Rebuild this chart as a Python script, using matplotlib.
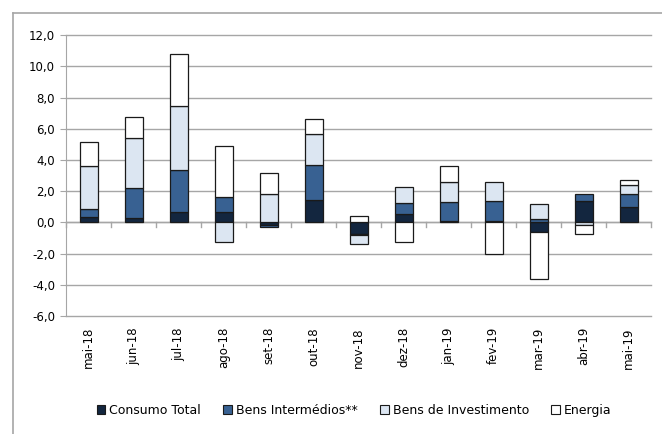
import numpy as np
import matplotlib.pyplot as plt
from matplotlib.patches import Patch
from matplotlib.lines import Line2D

meses = ['mai-18', 'jun-18', 'jul-18', 'ago-18', 'set-18', 'out-18', 'nov-18',
         'dez-18', 'jan-19', 'fev-19', 'mar-19', 'abr-19', 'mai-19']

consumo = [0.32, 0.28, 0.66, 0.68, -0.20, 1.41, -0.75, 0.51, 0.06, 0.09, -0.64, 1.40, 0.96]
intermedios = [0.51, 1.90, 2.68, 0.97, -0.12, 2.29, -0.05, 0.71, 1.22, 1.28, 0.20, 0.40, 0.86]
investimento = [2.81, 3.25, 4.10, -1.24, 1.80, 1.99, -0.61, 1.07, 1.29, 1.24, 0.97, -0.17, 0.55]
energia = [1.54, 1.35, 3.32, 3.23, 1.34, 0.94, 0.40, -1.28, 1.07, -2.05, -2.99, -0.60, 0.33]

series = [('Consumo Total', consumo, '#13263f'),
          ('Bens Intermédios**', intermedios, '#386192'),
          ('Bens de Investimento', investimento, '#dce6f2'),
          ('Energia', energia, '#ffffff')]

fig = plt.figure(figsize=(6.62, 4.34), dpi=100)
ax = fig.add_axes([0.0997, 0.272, 0.884, 0.647])

x = np.arange(len(meses))
pos = np.zeros(len(meses))
neg = np.zeros(len(meses))
for nome, vals, cor in series:
    v = np.array(vals)
    base = np.where(v >= 0, pos, neg)
    ax.bar(x, v, bottom=base, width=0.4, color=cor, edgecolor='#1a1a1a',
           linewidth=0.9, zorder=3)
    pos = pos + np.where(v >= 0, v, 0)
    neg = neg + np.where(v < 0, v, 0)

ax.set_xlim(-0.5, len(meses) - 0.5)
ax.set_ylim(-6, 12)
yt = np.arange(-6, 13, 2)
ax.set_yticks(yt)
ax.set_yticklabels([f'{t:.1f}'.replace('.', ',') for t in yt], fontsize=8.5)
for t in yt:
    ax.axhline(t, color='#a6a6a6', linewidth=1.0, zorder=0, clip_on=False)
ax.tick_params(axis='y', length=4, color='#a6a6a6', pad=4)

for s in ['top', 'right', 'bottom']:
    ax.spines[s].set_visible(False)
ax.spines['left'].set_color('#a6a6a6')

# eixo no zero com marcas entre categorias
ax.axhline(0, color='#a6a6a6', linewidth=1.0, zorder=2)
for b in np.arange(-0.5, len(meses), 1.0):
    ax.plot([b, b], [0, -0.28], color='#a6a6a6', linewidth=1.0, zorder=2, clip_on=False)

ax.set_xticks(x)
ax.set_xticklabels(meses, rotation=90, fontsize=8.5)
ax.tick_params(axis='x', length=0, pad=8)

handles = [Patch(facecolor=c, edgecolor='#1a1a1a', linewidth=0.8, label=n) for n, _, c in series]
fig.legend(handles=handles, loc='center', bbox_to_anchor=(0.535, 0.055), ncol=4,
           frameon=False, fontsize=9, handlelength=0.7, handleheight=0.7,
           handletextpad=0.3, columnspacing=1.8)

# moldura do gráfico
fig.add_artist(Line2D([13 / 662, 13 / 662], [0, 1 - 13 / 434], color='#a6a6a6', linewidth=1.2))
fig.add_artist(Line2D([13 / 662, 1], [1 - 13 / 434, 1 - 13 / 434], color='#a6a6a6', linewidth=1.2))

fig.savefig('out.png', dpi=100)
